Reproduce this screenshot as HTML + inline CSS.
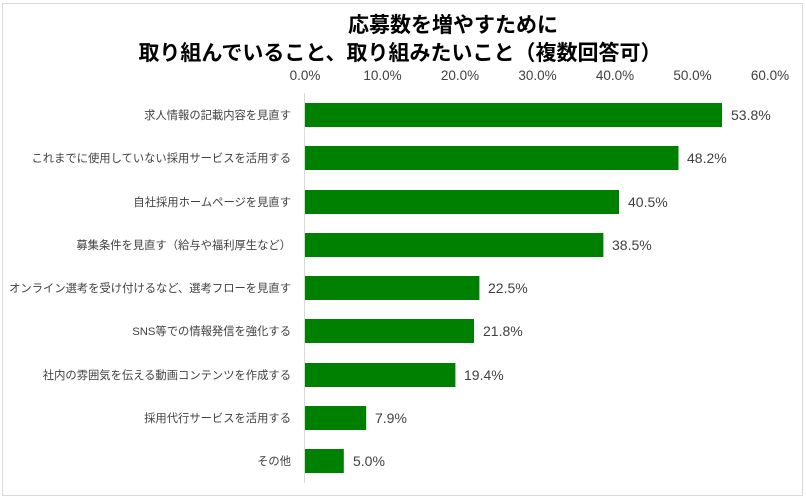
<!DOCTYPE html>
<html><head><meta charset="utf-8"><style>
body{margin:0;background:#fff;}
svg text{font-family:"Liberation Sans","Noto Sans CJK JP",sans-serif;}
</style></head><body>
<svg width="806" height="498" xmlns="http://www.w3.org/2000/svg">
<rect x="2.5" y="3.5" width="800" height="492" fill="#fff" stroke="#d9d9d9"/>
<g font-weight="bold" font-size="21" fill="#000" text-anchor="middle">
<text x="453" y="32">応募数を増やすために</text>
<text x="400" y="60">取り組んでいること、取り組みたいこと（複数回答可）</text>
</g>
<g font-size="13.5" fill="#404040" text-anchor="middle">
<text x="305" y="80">0.0%</text><text x="382.5" y="80">10.0%</text><text x="460" y="80">20.0%</text><text x="537.5" y="80">30.0%</text><text x="615" y="80">40.0%</text><text x="692.5" y="80">50.0%</text><text x="770" y="80">60.0%</text>
</g>
<line x1="304.5" y1="93" x2="304.5" y2="483" stroke="#d9d9d9"/>
<g fill="#008000">
<rect x="305" y="103" width="417" height="24"/>
<rect x="305" y="146" width="373.5" height="24"/>
<rect x="305" y="190" width="314" height="24"/>
<rect x="305" y="233" width="298.4" height="24"/>
<rect x="305" y="276" width="174.4" height="24"/>
<rect x="305" y="319" width="169" height="24"/>
<rect x="305" y="363" width="150.4" height="24"/>
<rect x="305" y="406" width="61.2" height="24"/>
<rect x="305" y="449" width="38.8" height="24"/>
</g>
<g font-size="11.3" fill="#404040" text-anchor="end">
<text x="291" y="119">求人情報の記載内容を見直す</text>
<text x="291" y="162">これまでに使用していない採用サービスを活用する</text>
<text x="291" y="206">自社採用ホームページを見直す</text>
<text x="291" y="249">募集条件を見直す（給与や福利厚生など）</text>
<text x="291" y="292">オンライン選考を受け付けるなど、選考フローを見直す</text>
<text x="291" y="335">SNS等での情報発信を強化する</text>
<text x="291" y="379">社内の雰囲気を伝える動画コンテンツを作成する</text>
<text x="291" y="422">採用代行サービスを活用する</text>
<text x="291" y="465">その他</text>
</g>
<g font-size="14" fill="#404040">
<text x="731" y="120">53.8%</text>
<text x="687" y="163">48.2%</text>
<text x="628" y="207">40.5%</text>
<text x="612" y="250">38.5%</text>
<text x="488" y="293">22.5%</text>
<text x="483" y="336">21.8%</text>
<text x="464" y="380">19.4%</text>
<text x="375" y="423">7.9%</text>
<text x="353" y="466">5.0%</text>
</g>
</svg>
</body></html>
